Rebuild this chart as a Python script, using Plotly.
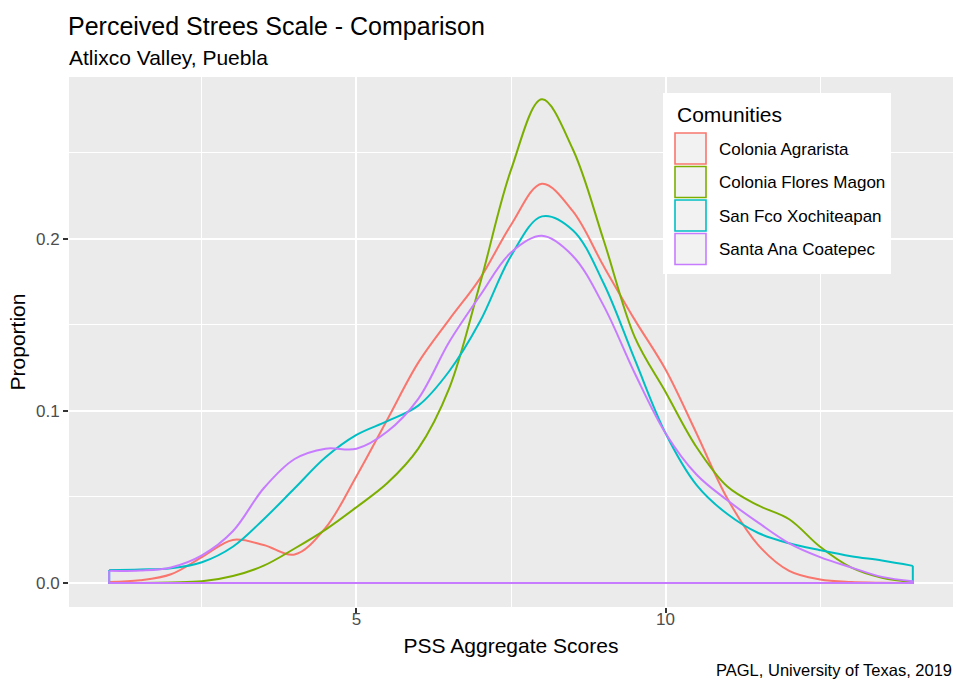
import plotly.graph_objects as go

# ---------------- data ----------------
x_scores = [1.0, 1.5, 2.0, 2.5, 3.0, 3.5, 4.0, 4.5, 5.0, 5.5, 6.0, 6.5, 7.0, 7.5,
            8.0, 8.5, 9.0, 9.5, 10.0, 10.5, 11.0, 11.5, 12.0, 12.5, 13.0, 13.5, 14.0]

colonia_agrarista = [0.0005, 0.0015, 0.005, 0.015, 0.025, 0.022, 0.0165, 0.032, 0.062, 0.095,
                     0.128, 0.153, 0.177, 0.208, 0.232, 0.216, 0.184, 0.153, 0.124, 0.087,
                     0.049, 0.022, 0.007, 0.002, 0.0005, 0.0001, 0.0]
colonia_flores_magon = [0.0, 0.0, 0.0003, 0.0009, 0.004, 0.010, 0.020, 0.031, 0.044, 0.058,
                        0.078, 0.113, 0.174, 0.240, 0.281, 0.252, 0.199, 0.143, 0.111, 0.079,
                        0.056, 0.045, 0.037, 0.021, 0.009, 0.003, 0.0006]
san_fco_xochiteapan = [0.0075, 0.0078, 0.0085, 0.012, 0.021, 0.037, 0.055, 0.073, 0.086, 0.094,
                       0.103, 0.123, 0.152, 0.190, 0.213, 0.205, 0.174, 0.130, 0.087, 0.057,
                       0.040, 0.029, 0.023, 0.019, 0.0155, 0.013, 0.0099]
santa_ana_coatepec = [0.007, 0.0072, 0.009, 0.016, 0.030, 0.055, 0.072, 0.078, 0.078, 0.088,
                      0.107, 0.140, 0.167, 0.192, 0.2017, 0.190, 0.161, 0.122, 0.087, 0.063,
                      0.048, 0.035, 0.023, 0.015, 0.009, 0.0035, 0.001]

community_names = ["Colonia Agrarista", "Colonia Flores Magon",
                   "San Fco Xochiteapan", "Santa Ana Coatepec"]
community_values = [colonia_agrarista, colonia_flores_magon,
                     san_fco_xochiteapan, santa_ana_coatepec]
community_colors = ["#F8766D", "#7CAE00", "#00BFC4", "#C77CFF"]

x_tick_vals = [5, 10]
x_tick_text = ["5", "10"]
y_tick_vals = [0.0, 0.1, 0.2]
y_tick_text = ["0.0", "0.1", "0.2"]

# ---------------- layout geometry (pixels) ----------------
W, H = 956, 683
PL, PR, PT, PB = 69, 953, 77, 607   # panel edges
FONT = "Liberation Sans, Arial, Helvetica, sans-serif"


def px_x(p):
    return (p - PL) / (PR - PL)


def px_y(p):
    return (PB - p) / (PB - PT)


fig = go.Figure()

for name, vals, col in zip(community_names, community_values, community_colors):
    fig.add_trace(go.Scatter(
        x=x_scores, y=vals, mode="lines", name=name,
        line=dict(color=col, width=2, shape="spline", smoothing=1.0),
        showlegend=False, hoverinfo="skip"))
    # closing edges of the density polygon (right edge, baseline, left edge)
    fig.add_trace(go.Scatter(
        x=[x_scores[-1], x_scores[-1], x_scores[0], x_scores[0]],
        y=[vals[-1], 0, 0, vals[0]], mode="lines",
        line=dict(color=col, width=2), showlegend=False, hoverinfo="skip"))

shapes = []
annotations = []

# ---- manual legend (ggplot style) ----
LX0, LX1, LY0, LY1 = 663, 891, 93, 274
shapes.append(dict(type="rect", xref="paper", yref="paper",
                   x0=px_x(LX0), x1=px_x(LX1), y0=px_y(LY1), y1=px_y(LY0),
                   fillcolor="white", line=dict(width=0), layer="above"))
annotations.append(dict(text="Comunities", xref="paper", yref="paper",
                        x=px_x(675), y=px_y(114), xanchor="left", yanchor="middle",
                        showarrow=False, font=dict(size=21, color="black", family=FONT)))
key_top = 133
pitch = 33.5
for i, (name, col) in enumerate(zip(community_names, community_colors)):
    t = key_top + i * pitch
    shapes.append(dict(type="rect", xref="paper", yref="paper",
                       x0=px_x(675), x1=px_x(706), y0=px_y(t + 31), y1=px_y(t),
                       fillcolor="#F2F2F2", line=dict(color=col, width=1.6), layer="above"))
    annotations.append(dict(text=name, xref="paper", yref="paper",
                            x=px_x(717), y=px_y(t + 16), xanchor="left", yanchor="middle",
                            showarrow=False, font=dict(size=17, color="black", family=FONT)))

# ---- titles ----
annotations.append(dict(text="Perceived Strees Scale - Comparison", xref="paper", yref="paper",
                        x=px_x(66), y=px_y(26), xanchor="left", yanchor="middle",
                        showarrow=False, font=dict(size=25, color="black", family=FONT)))
annotations.append(dict(text="Atlixco Valley, Puebla", xref="paper", yref="paper",
                        x=px_x(67), y=px_y(58), xanchor="left", yanchor="middle",
                        showarrow=False, font=dict(size=21, color="black", family=FONT)))
annotations.append(dict(text="PAGL, University of Texas, 2019", xref="paper", yref="paper",
                        x=px_x(954), y=px_y(670), xanchor="right", yanchor="middle",
                        showarrow=False, font=dict(size=16.5, color="black", family=FONT)))

fig.update_layout(
    width=W, height=H,
    margin=dict(l=PL, r=W - PR, t=PT, b=H - PB, pad=0),
    paper_bgcolor="white", plot_bgcolor="#EBEBEB",
    font=dict(family=FONT),
    shapes=shapes, annotations=annotations,
    showlegend=False,
)
fig.update_xaxes(
    range=[0.35, 14.65], tickmode="array", tickvals=x_tick_vals, ticktext=x_tick_text,
    showgrid=True, gridcolor="white", gridwidth=2, zeroline=False, showline=False,
    ticks="outside", ticklen=5, tickwidth=2, tickcolor="#333333",
    tickfont=dict(size=17, color="#4D4D4D", family=FONT), ticklabelstandoff=-8,
    minor=dict(tickvals=[2.5, 7.5, 12.5], showgrid=True, gridcolor="white", gridwidth=1, ticks=""),
    title=dict(text="PSS Aggregate Scores", font=dict(size=21, color="black", family=FONT), standoff=9),
)
fig.update_yaxes(
    range=[-0.014, 0.294], tickmode="array", tickvals=y_tick_vals, ticktext=y_tick_text,
    showgrid=True, gridcolor="white", gridwidth=2, zeroline=False, showline=False,
    ticks="outside", ticklen=5, tickwidth=2, tickcolor="#333333",
    tickfont=dict(size=17, color="#4D4D4D", family=FONT),
    minor=dict(tickvals=[0.05, 0.15, 0.25], showgrid=True, gridcolor="white", gridwidth=1, ticks=""),
    title=dict(text="Proportion", font=dict(size=21, color="black", family=FONT), standoff=4),
)

fig.write_html("out.html")
